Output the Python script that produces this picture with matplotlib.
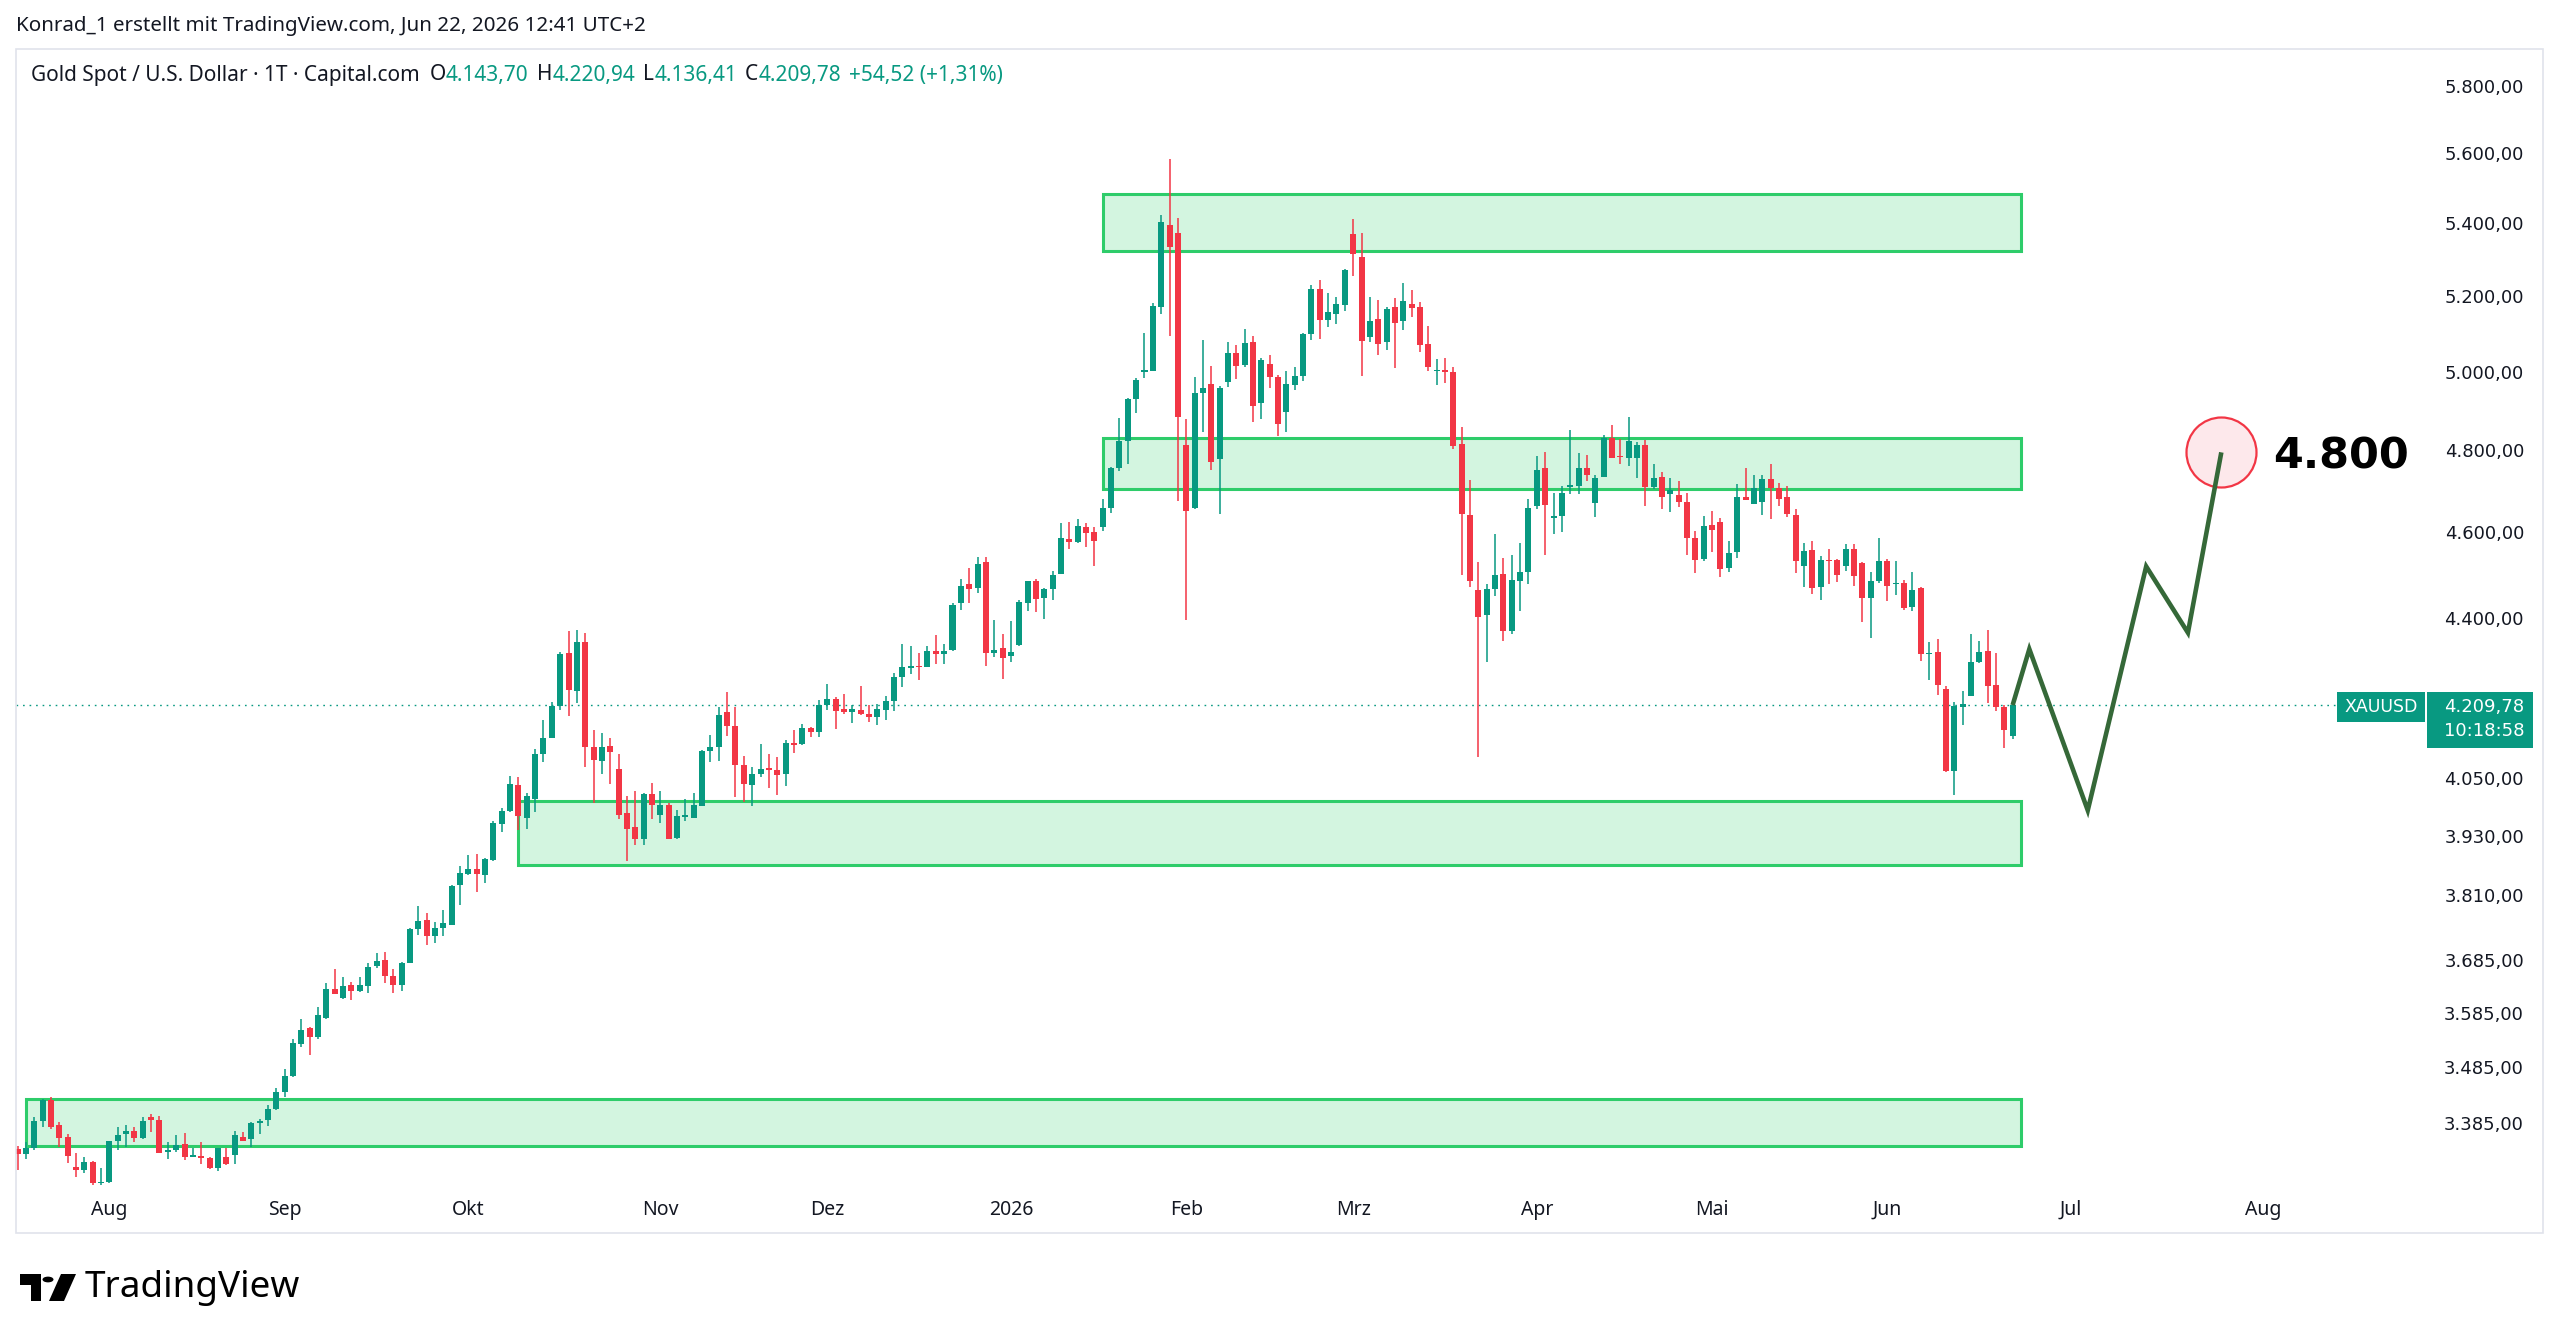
import numpy as np
import pandas as pd
import matplotlib
matplotlib.use("Agg")
import matplotlib.pyplot as plt
import matplotlib.transforms as mtransforms
from matplotlib.patches import Rectangle, Polygon, Circle

# ---------------- data (daily candles, XAUUSD) ----------------
open_ = [3344, 3335, 3345, 3393, 3429, 3385, 3365, 3312, 3308, 3321,
         3285, 3287, 3358, 3369, 3375, 3363, 3400, 3394, 3339, 3342,
         3352, 3330, 3331, 3328, 3310, 3329, 3333, 3365, 3360, 3389,
         3394, 3414, 3444, 3473, 3531, 3560, 3543, 3579, 3633, 3616,
         3640, 3630, 3639, 3677, 3688, 3658, 3640, 3682, 3747, 3766,
         3735, 3750, 3756, 3834, 3857, 3866, 3855, 3885, 3958, 3984,
         4039, 3971, 4010, 4105, 4139, 4208, 4326, 4240, 4349, 4119,
         4090, 4122, 4073, 3981, 3951, 3927, 4020, 3976, 3997, 3929,
         3973, 3971, 3995, 4111, 4119, 4195, 4165, 4081, 4038, 4062,
         4075, 4070, 4062, 4128, 4126, 4159, 4152, 4210, 4224, 4201,
         4195, 4200, 4191, 4184, 4200, 4219, 4272, 4292, 4297, 4293,
         4330, 4322, 4331, 4439, 4482, 4474, 4534, 4325, 4337, 4319,
         4343, 4440, 4489, 4451, 4471, 4507, 4590, 4582, 4617, 4605,
         4617, 4664, 4760, 4828, 4934, 5005, 5007, 5177, 5400, 5380,
         4818, 4663, 4950, 4973, 4784, 4978, 5055, 5023, 5082, 4925,
         5024, 4991, 4901, 4971, 4993, 5103, 5224, 5141, 5157, 5181,
         5375, 5313, 5096, 5144, 5084, 5176, 5138, 5184, 5176, 5078,
         5006, 5008, 5005, 4821, 4647, 4468, 4411, 4471, 4507, 4376,
         4490, 4510, 4667, 4760, 4640, 4643, 4715, 4717, 4762, 4676,
         4740, 4837, 4791, 4787, 4787, 4819, 4715, 4739, 4697, 4695,
         4679, 4592, 4541, 4623, 4630, 4520, 4557, 4689, 4674, 4679,
         4733, 4713, 4689, 4647, 4524, 4562, 4476, 4540, 4539, 4524,
         4565, 4532, 4450, 4489, 4537, 4483, 4486, 4429, 4473, 4323,
         4327, 4246, 4069, 4206, 4229, 4304, 4329, 4253, 4205, 4143.70]
high = [3349, 3356, 3399, 3431, 3435, 3390, 3370, 3336, 3329, 3323,
        3310, 3358, 3382, 3386, 3381, 3400, 3405, 3401, 3356, 3367,
        3371, 3345, 3356, 3329, 3346, 3346, 3374, 3373, 3390, 3395,
        3420, 3451, 3485, 3539, 3577, 3562, 3599, 3644, 3671, 3655,
        3647, 3655, 3683, 3701, 3704, 3670, 3684, 3750, 3792, 3779,
        3762, 3786, 3835, 3872, 3895, 3896, 3889, 3963, 3990, 4058,
        4055, 4021, 4115, 4177, 4216, 4328, 4376, 4377, 4371, 4155,
        4149, 4139, 4105, 4015, 4026, 4023, 4042, 4026, 4002, 3986,
        4009, 4023, 4112, 4144, 4206, 4238, 4206, 4101, 4077, 4126,
        4105, 4097, 4134, 4155, 4168, 4163, 4221, 4257, 4228, 4234,
        4211, 4252, 4211, 4213, 4230, 4280, 4345, 4341, 4326, 4341,
        4365, 4346, 4439, 4495, 4520, 4546, 4546, 4400, 4367, 4398,
        4446, 4491, 4495, 4474, 4513, 4626, 4630, 4636, 4628, 4617,
        4684, 4764, 4886, 4938, 4988, 5108, 5188, 5430, 5590, 5420,
        4883, 4992, 5088, 5021, 4967, 5083, 5075, 5117, 5098, 5041,
        5050, 4997, 5008, 5018, 5108, 5235, 5249, 5215, 5204, 5280,
        5419, 5379, 5204, 5195, 5176, 5201, 5240, 5223, 5189, 5125,
        5038, 5041, 5017, 4863, 4732, 4535, 4482, 4602, 4543, 4552,
        4580, 4685, 4792, 4802, 4701, 4716, 4856, 4798, 4793, 4745,
        4843, 4869, 4834, 4888, 4825, 4831, 4771, 4752, 4737, 4728,
        4700, 4607, 4643, 4657, 4638, 4585, 4721, 4762, 4745, 4745,
        4771, 4724, 4716, 4662, 4580, 4585, 4549, 4565, 4541, 4577,
        4577, 4535, 4511, 4591, 4541, 4536, 4493, 4511, 4476, 4349,
        4357, 4252, 4216, 4241, 4367, 4353, 4378, 4326, 4210, 4220.94]
low = [3307, 3326, 3342, 3381, 3379, 3347, 3320, 3296, 3302, 3282,
       3282, 3285, 3342, 3347, 3356, 3361, 3373, 3336, 3326, 3339,
       3324, 3329, 3318, 3309, 3306, 3315, 3317, 3357, 3347, 3370,
       3383, 3412, 3435, 3470, 3526, 3510, 3540, 3577, 3623, 3615,
       3612, 3628, 3625, 3673, 3644, 3626, 3630, 3682, 3737, 3717,
       3721, 3735, 3756, 3795, 3854, 3821, 3838, 3883, 3941, 3982,
       3945, 3947, 3982, 4088, 4138, 4199, 4187, 4214, 4077, 4002,
       4062, 4040, 3969, 3882, 3914, 3914, 3969, 3959, 3927, 3927,
       3963, 3971, 3995, 4088, 4090, 4142, 4013, 4003, 3995, 4055,
       4033, 4018, 4036, 4106, 4124, 4140, 4141, 4199, 4157, 4190,
       4170, 4188, 4172, 4167, 4178, 4197, 4250, 4279, 4265, 4293,
       4301, 4301, 4330, 4422, 4440, 4463, 4297, 4317, 4267, 4304,
       4341, 4420, 4418, 4402, 4445, 4507, 4565, 4580, 4570, 4526,
       4607, 4652, 4754, 4770, 4898, 4988, 5007, 5157, 5098, 4680,
       4401, 4661, 4851, 4756, 4650, 4965, 4986, 5018, 4876, 4885,
       4963, 4840, 4852, 4957, 4981, 5088, 5092, 5123, 5130, 5166,
       5260, 4995, 5082, 5050, 5062, 5015, 5115, 5149, 5057, 5008,
       4970, 4975, 4808, 4503, 4477, 4098, 4304, 4455, 4353, 4367,
       4420, 4483, 4662, 4552, 4602, 4606, 4697, 4697, 4729, 4642,
       4740, 4785, 4771, 4767, 4736, 4667, 4710, 4661, 4654, 4665,
       4551, 4508, 4536, 4557, 4499, 4512, 4543, 4683, 4674, 4646,
       4637, 4667, 4642, 4508, 4476, 4459, 4447, 4484, 4488, 4514,
       4478, 4395, 4360, 4485, 4443, 4458, 4423, 4421, 4307, 4265,
       4232, 4067, 4018, 4167, 4229, 4302, 4215, 4198, 4118, 4136.41]
close = [3335, 3345, 3393, 3429, 3381, 3363, 3332, 3308, 3321, 3285,
         3287, 3357, 3368, 3375, 3363, 3393, 3394, 3336, 3342, 3351,
         3330, 3331, 3327, 3310, 3345, 3317, 3367, 3358, 3389, 3393,
         3414, 3444, 3473, 3532, 3557, 3543, 3585, 3633, 3623, 3638,
         3630, 3640, 3675, 3686, 3658, 3641, 3683, 3748, 3764, 3735,
         3750, 3759, 3833, 3858, 3866, 3856, 3886, 3960, 3985, 4041,
         3974, 4016, 4105, 4139, 4208, 4322, 4244, 4350, 4119, 4092,
         4120, 4108, 3976, 3947, 3927, 4020, 3998, 3997, 3927, 3975,
         3976, 3997, 4111, 4120, 4189, 4164, 4080, 4040, 4062, 4073,
         4071, 4060, 4128, 4124, 4160, 4151, 4211, 4224, 4196, 4195,
         4202, 4191, 4184, 4201, 4219, 4272, 4293, 4297, 4293, 4330,
         4322, 4330, 4435, 4479, 4471, 4530, 4325, 4333, 4313, 4327,
         4441, 4489, 4448, 4471, 4505, 4592, 4582, 4620, 4603, 4583,
         4664, 4760, 4828, 4934, 4985, 5007, 5179, 5410, 5340, 4888,
         4655, 4950, 4962, 4777, 4963, 5055, 5020, 5080, 4918, 5037,
         4991, 4872, 4974, 4994, 5105, 5224, 5141, 5164, 5184, 5276,
         5321, 5085, 5138, 5078, 5170, 5133, 5192, 5173, 5075, 5017,
         5008, 5005, 4816, 4650, 4491, 4406, 4472, 4504, 4376, 4493,
         4510, 4664, 4757, 4670, 4643, 4701, 4717, 4762, 4745, 4737,
         4837, 4787, 4788, 4829, 4819, 4715, 4737, 4691, 4707, 4677,
         4592, 4539, 4619, 4611, 4519, 4555, 4689, 4683, 4711, 4733,
         4711, 4686, 4648, 4536, 4560, 4474, 4539, 4537, 4503, 4565,
         4501, 4450, 4491, 4537, 4478, 4486, 4427, 4470, 4322, 4326,
         4253, 4069, 4207, 4213, 4306, 4327, 4251, 4205, 4155.26, 4209.78]

last_date = "2026-06-22"
holidays = ["2025-12-25", "2026-01-01", "2026-04-03"]
month_names = ["Jan", "Feb", "Mrz", "Apr", "Mai", "Jun", "Jul", "Aug", "Sep", "Okt", "Nov", "Dez"]

# support / resistance zones (price low, price high, first bar)
zone_low = [5330, 4710, 3874, 3348]
zone_high = [5490, 4836, 4005, 3431]
zone_start = [130, 130, 60, 1]
zone_end = 240

# projected path (bars after last candle, price)
proj_offset = [0, 2, 9, 16, 21, 25]
proj_price = [4209.78, 4334, 3986, 4524, 4371, 4800]

price_ticks = [5800, 5600, 5400, 5200, 5000, 4800, 4600, 4400, 4050, 3930, 3810, 3685, 3585, 3485, 3385]

# ---------------- styling ----------------
UP = "#089981"
DOWN = "#f23645"
TXT = "#131722"
W, H = 2560, 1340

def de(v, dec=2):
    s = f"{v:,.{dec}f}"
    return s.replace(",", "X").replace(".", ",").replace("X", ".")

def fx(x):
    return x / W

def fy(y):
    return 1 - y / H

fig = plt.figure(figsize=(W / 100, H / 100), dpi=100)
fig.patch.set_facecolor("white")

ax = fig.add_axes([fx(16), fy(1190), (2425 - 16) / W, (1190 - 49) / H])
ax.set_yscale("log")
ax.set_ylim(3273, 5918)
ax.set_xlim(-0.19, 288.4)
ax.set_axis_off()

n = len(close)
x = np.arange(n)
o = np.array(open_, float)
h = np.array(high, float)
l = np.array(low, float)
c = np.array(close, float)

# zones
for zl, zh, zs in zip(zone_low, zone_high, zone_start):
    ax.add_patch(Rectangle((zs, zl), zone_end - zs, zh - zl, facecolor="#d3f5e0",
                           edgecolor="#2ecc6a", linewidth=2.2, zorder=1))

# candles
up = c >= o
colors = np.where(up, UP, DOWN)
ax.vlines(x, l, h, colors=colors, linewidth=1.1, zorder=3)
bottoms = np.minimum(o, c)
heights = np.maximum(np.abs(c - o), c * 0.0007)
ax.bar(x, heights, bottom=bottoms, width=0.72, color=colors, linewidth=0, zorder=4)

# current price dotted line
ax.axhline(c[-1], xmin=0, xmax=(2337 - 16) / (2425 - 16), color=UP, linewidth=1.0,
           linestyle=(0, (1.2, 3.5)), zorder=2)

# projection path
px = [n - 1 + k for k in proj_offset]
ax.scatter([px[-1]], [proj_price[-1]], s=2540, facecolor="#fde8eb", edgecolor=DOWN,
           linewidth=1.6, zorder=5)
ax.plot(px, proj_price, color="#356838", linewidth=3.3, solid_joinstyle="miter",
        solid_capstyle="butt", zorder=6)
ax.text(px[-1] + 6.2, proj_price[-1] * 0.998, de(proj_price[-1], 0), fontsize=31,
        fontweight="bold", family="DejaVu Sans", color="black", va="center", ha="left",
        zorder=7, clip_on=False)

# price scale labels
tr_y = mtransforms.blended_transform_factory(fig.transFigure, ax.transData)
for p in price_ticks:
    ax.text(fx(2524), p, de(p), transform=tr_y, ha="right", va="center", fontsize=13,
            family="DejaVu Sans", color=TXT, clip_on=False)

# current price labels
fig.patches.append(Rectangle((fx(2337), fy(722)), (2425 - 2337) / W, 30 / H,
                             transform=fig.transFigure, facecolor=UP, edgecolor="none"))
fig.text(fx(2381), fy(707), "XAUUSD", ha="center", va="center", color="white",
         fontsize=12.5, family="DejaVu Sans")
fig.patches.append(Rectangle((fx(2427), fy(748)), (2533 - 2427) / W, 56 / H,
                             transform=fig.transFigure, facecolor=UP, edgecolor="none"))
fig.text(fx(2524), fy(707), de(c[-1]), ha="right", va="center", color="white",
         fontsize=13, family="DejaVu Sans")
fig.text(fx(2524), fy(731), "10:18:58", ha="right", va="center", color="white",
         fontsize=13, family="DejaVu Sans")

# time axis labels
all_dates = pd.bdate_range(end=last_date, periods=n, freq="C", holidays=holidays)
future = pd.bdate_range(start=pd.Timestamp(last_date) + pd.Timedelta(days=1), periods=60,
                        freq="C", holidays=holidays)
dates = all_dates.append(future)
tr_x = mtransforms.blended_transform_factory(ax.transData, fig.transFigure)
for i in range(1, len(dates)):
    if dates[i].month != dates[i - 1].month and i < 285:
        m = dates[i].month
        lab = str(dates[i].year) if m == 1 else month_names[m - 1]
        ax.text(i, fy(1210), lab, transform=tr_x, ha="center", va="center", fontsize=14,
                family="Noto Sans", color=TXT, fontweight="bold" if m == 1 else "normal",
                clip_on=False)

# panel border
fig.patches.append(Rectangle((fx(16), fy(1233)), (2543 - 16) / W, (1233 - 49) / H,
                             transform=fig.transFigure, facecolor="none",
                             edgecolor="#e0e3eb", linewidth=1.2))

# header
fig.text(fx(16), fy(26), "Konrad_1 erstellt mit TradingView.com, Jun 22, 2026 12:41 UTC+2",
         ha="left", va="center", fontsize=14.8, family="Noto Sans", color=TXT)

chg = c[-1] - c[-2]
pct = chg / c[-2] * 100
pieces = [("Gold Spot / U.S. Dollar \u00b7 1T \u00b7 Capital.com", TXT, 0),
          ("O", TXT, 7), (de(o[-1]), UP, 0),
          ("H", TXT, 6), (de(h[-1]), UP, 0),
          ("L", TXT, 6), (de(l[-1]), UP, 0),
          ("C", TXT, 6), (de(c[-1]), UP, 0),
          (f"{'+' if chg >= 0 else ''}{de(chg)} ({'+' if pct >= 0 else ''}{de(pct)}%)", UP, 6)]
prev = fig.text(fx(31), fy(75), pieces[0][0], ha="left", va="center", fontsize=15,
                family="Noto Sans", color=pieces[0][1])
for txt, col, gap in pieces[1:]:
    prev = ax.annotate(txt, xy=(1, 0.5), xycoords=prev, xytext=(gap, 0),
                       textcoords="offset points", ha="left", va="center", fontsize=15,
                       family="Noto Sans", color=col, annotation_clip=False)

# TradingView logo
def px2fig(pts):
    return [(fx(a), fy(b)) for a, b in pts]

fig.patches.append(Polygon(px2fig([(20, 1274), (41, 1274), (41, 1301), (31, 1301), (31, 1285), (20, 1285)]),
                           closed=True, transform=fig.transFigure, facecolor="black", edgecolor="none"))
fig.patches.append(Circle((fx(48), fy(1279.5)), 5.5 / W, transform=fig.transFigure,
                          facecolor="black", edgecolor="none"))
fig.patches.append(Polygon(px2fig([(61, 1274), (76, 1274), (64, 1301), (49, 1301)]),
                           closed=True, transform=fig.transFigure, facecolor="black", edgecolor="none"))
fig.text(fx(85), fy(1288), "TradingView", ha="left", va="center", fontsize=26.5,
         fontweight="bold", family="Noto Sans", color="black")

fig.savefig("out.png", dpi=100, facecolor="white")
